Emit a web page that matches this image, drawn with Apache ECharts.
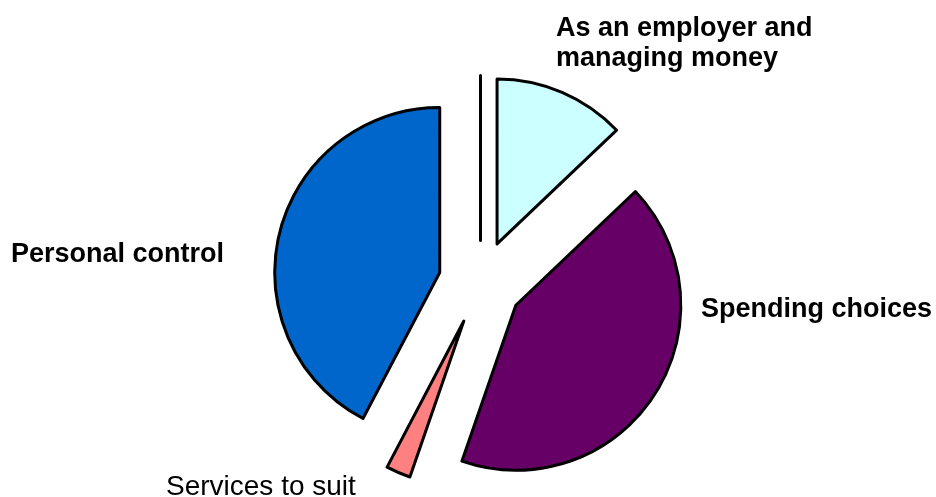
<!DOCTYPE html>
<html><head><meta charset="utf-8">
<script src="https://cdn.jsdelivr.net/npm/echarts@6/dist/echarts.min.js"></script>
<style>html,body{margin:0;padding:0;background:#fff}#c{width:936px;height:497px}</style>
</head><body><div id="c"></div>
<script>
const categories = ['', 'As an employer and\nmanaging money', 'Spending choices', 'Services to suit', 'Personal control'];
const values = [0, 12.9, 42.4, 2.4, 42.3];
const colors = ['#FFFFFF', '#CCFFFF', '#660066', '#FF8080', '#0066CC'];
const boldLabel = [false, true, true, false, true];

const labelPos = {
  1: [556, 44],
  2: [701, 310],
  3: [166, 487],
  4: [11, 255]
};

const chart = echarts.init(document.getElementById('c'), null, {renderer: 'canvas'});
const data = categories.map((n, i) => ({
  name: n,
  value: values[i],
  selected: true,
  itemStyle: {color: colors[i]}
}));
const labels = [];
categories.forEach((n, i) => {
  const p = labelPos[i];
  if (!p || !n) return;
  labels.push({
    type: 'text',
    x: p[0],
    y: p[1],
    style: {
      text: n,
      fill: '#000',
      font: (boldLabel[i] ? 'bold 27px' : 'normal 28px') + ' "Liberation Sans", Arial, sans-serif',
      lineHeight: 30,
      align: 'left',
      verticalAlign: 'middle'
    }
  });
});
chart.setOption({
  animation: false,
  backgroundColor: '#ffffff',
  graphic: labels,
  series: [{
    type: 'pie',
    center: [480.5, 282.5],
    radius: 165,
    startAngle: 90,
    clockwise: true,
    selectedMode: 'multiple',
    selectedOffset: 42,
    avoidLabelOverlap: false,
    minAngle: 0,
    itemStyle: {borderColor: '#000', borderWidth: 3},
    select: {itemStyle: {borderColor: '#000', borderWidth: 3}},
    emphasis: {disabled: true},
    label: {show: false},
    labelLine: {show: false},
    data: data
  }]
});
</script>
</body></html>
